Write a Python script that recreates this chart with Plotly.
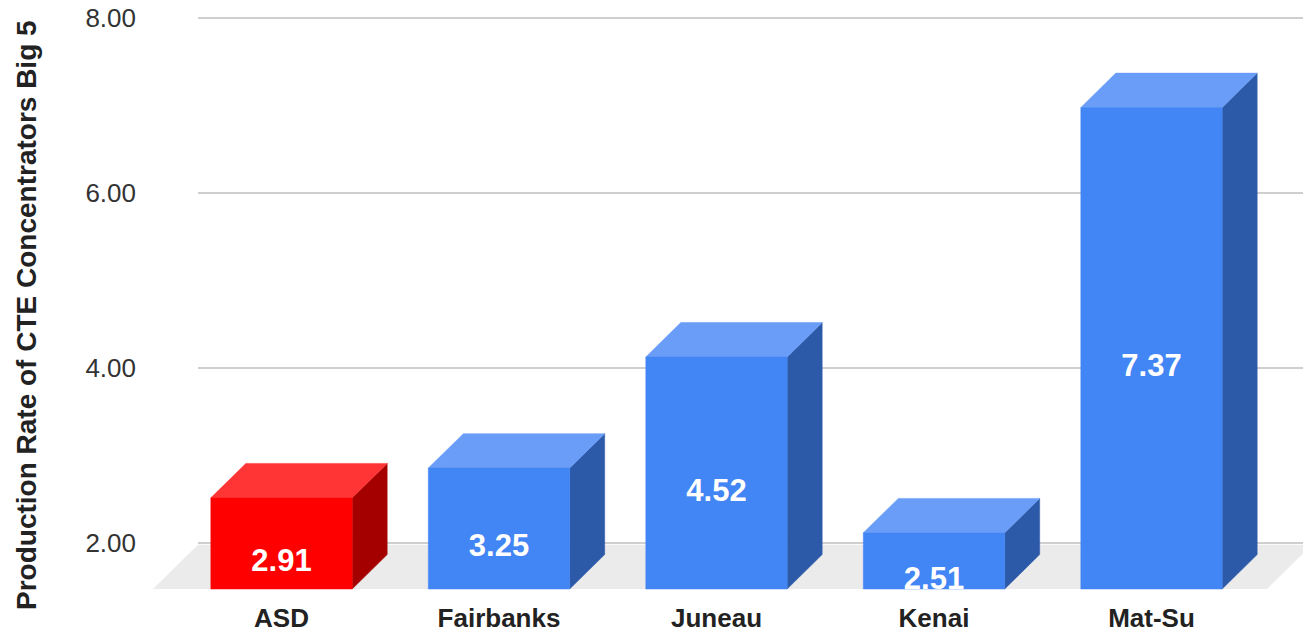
import plotly.graph_objects as go

categories = ["ASD", "Fairbanks", "Juneau", "Kenai", "Mat-Su"]
values = [2.91, 3.25, 4.52, 2.51, 7.37]
highlighted = ["ASD"]
y_ticks = [2, 4, 6, 8]
y_title = "Production Rate of CTE Concentrators Big 5"

# 3D look geometry, in data units
BAR_W = 0.65
DX = 0.161
DY = 0.394
FRONT_BASE = 1.474
FLOOR_BACK = 1.98
FLOOR_DX = 0.207
FLOOR_LEFT_PAD = 0.591
FLOOR_RIGHT_PAD = 0.531
LABEL_BASE = 1.018
X_RANGE = [-0.6506, 4.6966]
Y_RANGE = [1.3486, 8.0914]

PALETTE = {
    "red": ("#FF0000", "#FF3535", "#A50000"),
    "blue": ("#4285F4", "#6A9DF7", "#2C5AA8"),
}
FONT = "Liberation Sans, Arial, sans-serif"

W, H = 1303, 633
ML, MT, MB, MR = 140, 10, 33, 0
PW, PH = W - ML - MR, H - MT - MB

fig = go.Figure()
n = len(categories)

# gridlines on back plane
for t in y_ticks:
    fig.add_trace(go.Scatter(
        x=[-FLOOR_LEFT_PAD + FLOOR_DX, X_RANGE[1] + 0.2], y=[t, t], mode="lines",
        line=dict(color="#CFCFCF", width=2), hoverinfo="skip", showlegend=False))

# floor
fl = 0 - FLOOR_LEFT_PAD
fr = (n - 1) + FLOOR_RIGHT_PAD
fig.add_trace(go.Scatter(
    x=[fl, fr, fr + FLOOR_DX, fl + FLOOR_DX, fl],
    y=[FRONT_BASE, FRONT_BASE, FLOOR_BACK, FLOOR_BACK, FRONT_BASE],
    fill="toself", fillcolor="#EBEBEB", mode="none",
    hoverinfo="skip", showlegend=False))

# bars
for i, (c, v) in enumerate(zip(categories, values)):
    front, top, side = PALETTE["red"] if c in highlighted else PALETTE["blue"]
    xl, xr = i - BAR_W / 2, i + BAR_W / 2
    ft = v - DY
    polys = [
        (side, [xr, xr + DX, xr + DX, xr, xr], [FRONT_BASE, FRONT_BASE + DY, v, ft, FRONT_BASE]),
        (top, [xl, xl + DX, xr + DX, xr, xl], [ft, v, v, ft, ft]),
        (front, [xl, xr, xr, xl, xl], [FRONT_BASE, FRONT_BASE, ft, ft, FRONT_BASE]),
    ]
    for col, px, py in polys:
        fig.add_trace(go.Scatter(
            x=px, y=py, fill="toself", fillcolor=col, mode="lines",
            line=dict(color=col, width=0.5),
            hoverinfo="skip", showlegend=False))

# value labels
fig.add_trace(go.Scatter(
    x=list(range(n)),
    y=[(v - DY + LABEL_BASE) / 2 for v in values],
    text=[f"{v:.2f}" for v in values], mode="text",
    textposition="middle center", cliponaxis=False,
    textfont=dict(family=FONT, size=31, color="white", weight="bold"),
    hoverinfo="skip", showlegend=False))

fig.update_layout(
    width=W, height=H,
    margin=dict(l=ML, r=MR, t=MT, b=MB, autoexpand=False),
    plot_bgcolor="white", paper_bgcolor="white",
    showlegend=False,
    font=dict(family=FONT),
    xaxis=dict(range=X_RANGE, showgrid=False, zeroline=False, showline=False,
               tickvals=list(range(n)), ticktext=categories, ticks="",
               automargin=False, ticklabelstandoff=0,
               tickfont=dict(family=FONT, size=26, color="#222222", weight="bold"),
               fixedrange=True),
    yaxis=dict(range=Y_RANGE, showgrid=False, zeroline=False, showline=False,
               tickvals=y_ticks, ticktext=[f"{t:.2f}" for t in y_ticks], ticks="",
               automargin=False, ticklabelstandoff=3, ticklabeloverflow="allow",
               tickfont=dict(family=FONT, size=26, color="#333333"),
               fixedrange=True),
    annotations=[dict(
        text=y_title, textangle=-90, xref="paper", yref="paper",
        x=(26 - ML) / PW, y=(600 - 315) / PH, xanchor="center", yanchor="middle",
        showarrow=False, font=dict(family=FONT, size=28, color="#222222", weight="bold"))],
)

fig.write_html("out.html", config={"displayModeBar": False},
               post_script="document.body.style.margin='0';")
